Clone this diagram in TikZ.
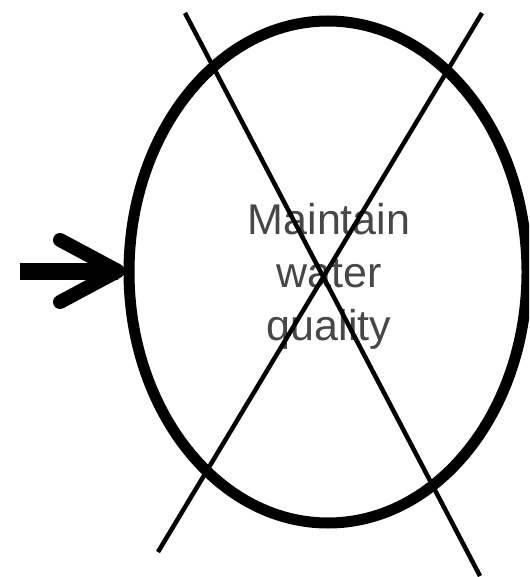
\documentclass[tikz,border=0pt]{standalone}
\usepackage{fontspec}
\setmainfont{Liberation Sans}
\usetikzlibrary{shapes.geometric}
\begin{document}
\begin{tikzpicture}[x=1pt,y=-1pt,
  goal/.style={draw=black, line width=11pt, ellipse, inner sep=0pt,
    minimum width=398pt, minimum height=502pt},
  label/.style={text=black!72, align=center, inner sep=0pt,
    font=\fontsize{43}{53}\selectfont},
  cross/.style={draw=black, line width=4.5pt},
  shaft/.style={draw=black, line width=17pt},
  head/.style={draw=black, line width=14pt, line cap=round, line join=round}]
\useasboundingbox (0,0) rectangle (529,577);
\clip (0,0) rectangle (529,577);
\node[goal] (e) at (328,272) {};
\node[label] (t) at (329,276) {Maintain\\water\\quality};
\coordinate (c1a) at (185,13);
\coordinate (c1b) at (480,576);
\coordinate (c2a) at (482,13);
\coordinate (c2b) at (158,552);
\draw[cross] (c1a) -- (c1b);
\draw[cross] (c2a) -- (c2b);
\coordinate (s) at (20,271);
\coordinate (tip) at (118,271);
\coordinate (h1) at (60,240);
\coordinate (h2) at (60,302);
\draw[shaft] (s) -- (tip);
\draw[head] (h1) -- (tip) -- (h2);
\end{tikzpicture}
\end{document}
